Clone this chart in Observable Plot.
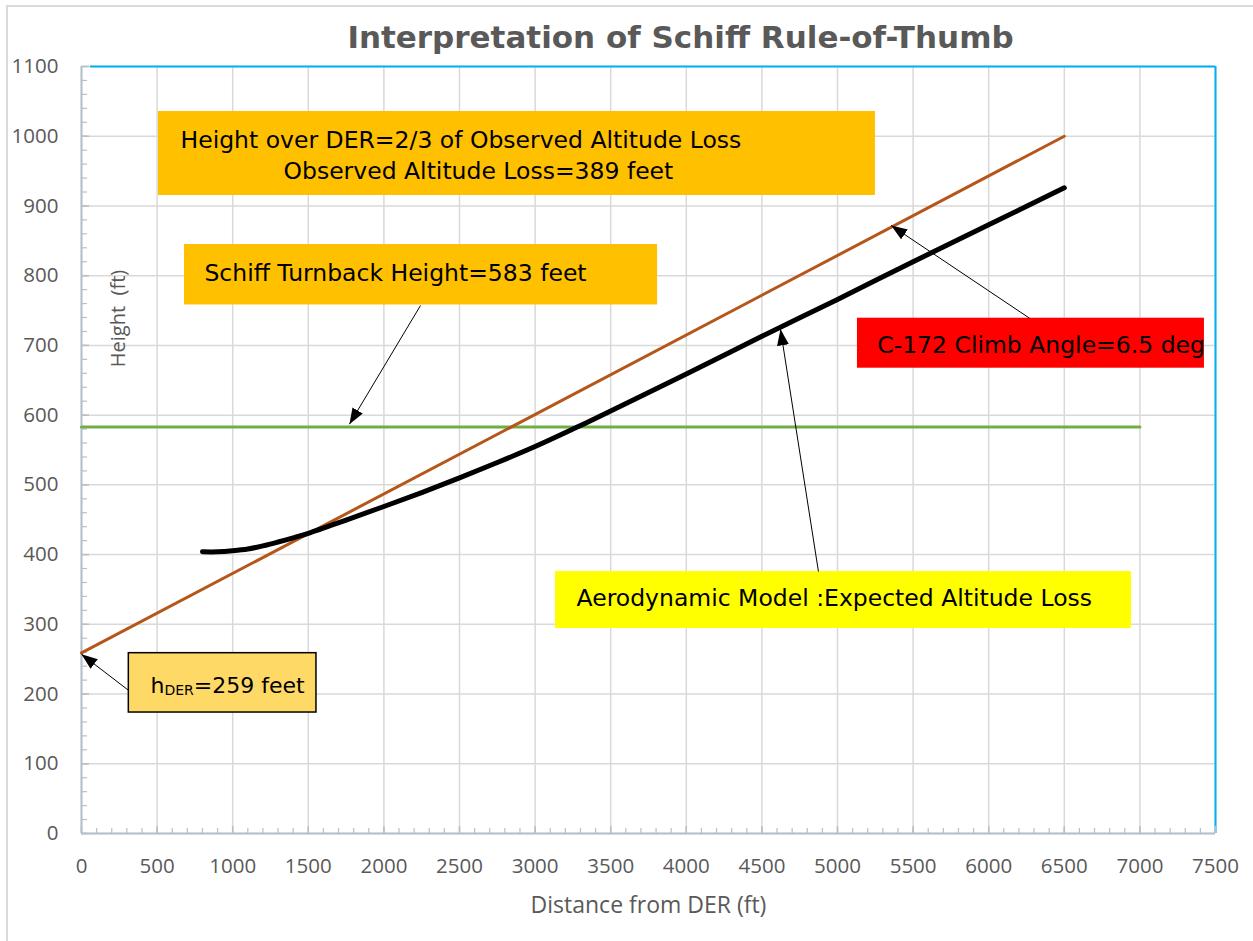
<!DOCTYPE html>
<html>
<head>
<meta charset="utf-8">
<script src="https://cdn.jsdelivr.net/npm/d3@7"></script>
<script src="https://cdn.jsdelivr.net/npm/@observablehq/plot@0.6"></script>
<style>
  html, body { margin: 0; padding: 0; background: #fff; overflow: hidden; }
  #wrap { position: relative; width: 1253px; height: 941px; }
  #border { position: absolute; left: 6px; top: 5px; width: 1280px; height: 980px;
            border-left: 2px solid #d9d9d9; border-top: 2px solid #d9d9d9; pointer-events: none; }
</style>
</head>
<body>
<div id="wrap"><div id="border"></div></div>
<script>
// ---- data ----
const xTicks = [0, 500, 1000, 1500, 2000, 2500, 3000, 3500, 4000, 4500, 5000, 5500, 6000, 6500, 7000, 7500];
const yTicks = [0, 100, 200, 300, 400, 500, 600, 700, 800, 900, 1000, 1100];

// Aerodynamic model: expected altitude loss curve
const modelDist   = [800, 900, 1000, 1100, 1200, 1300, 1400, 1500, 1750, 2000, 2250, 2500, 2750, 3000, 3250, 3500, 4000, 4500, 5000, 5500, 6000, 6500];
const modelHeight = [404, 404, 405.5, 408, 412.5, 418, 424, 430.5, 449.5, 469, 489, 510, 532, 555, 580, 606, 659, 713, 766, 820, 873, 926];

// C-172 climb line (6.5 deg) from h_DER = 259 ft
const climbDist   = [0, 6500];
const climbHeight = [259, 1000];

// Schiff turnback height
const schiffDist   = [0, 7000];
const schiffHeight = [583, 583];

// annotation boxes (data units)
const boxes = [
  {x1: 509,  x2: 5251, y1: 915,   y2: 1035.5, fill: "#FFC000", stroke: "none"},
  {x1: 681,  x2: 3810, y1: 758,   y2: 844.7,  fill: "#FFC000", stroke: "none"},
  {x1: 5132, x2: 7427, y1: 667.3, y2: 739,    fill: "#FF0000", stroke: "none"},
  {x1: 3135, x2: 6944, y1: 294,   y2: 375.7,  fill: "#FFFF00", stroke: "none"},
  {x1: 313,  x2: 1554, y1: 173.5, y2: 258.6,  fill: "#FFD966", stroke: "#000"}
];
const labels = [
  {x: 655,  y: 983,   text: "Height over DER=2/3 of Observed Altitude Loss"},
  {x: 1336, y: 938.6, text: "Observed Altitude Loss=389 feet"},
  {x: 813,  y: 791.7, text: "Schiff Turnback Height=583 feet"},
  {x: 5263, y: 688.4, text: "C-172 Climb Angle=6.5 deg"},
  {x: 3274, y: 325.6, text: "Aerodynamic Model :Expected Altitude Loss"},
  {x: 456,  y: 202,   text: "hDER=259 feet"}
];
const arrows = [
  {x1: 2242, y1: 757.2, x2: 1772, y2: 587},
  {x1: 6270, y1: 739,   x2: 5355, y2: 872},
  {x1: 4874, y1: 375.7, x2: 4623, y2: 723},
  {x1: 313,  y1: 205,   x2: 0,    y2: 257}
];

const titleText = "Interpretation of Schiff Rule-of-Thumb";
const xLabel = "Distance from DER (ft)";
const yLabel = "Height\u00a0 (ft)";

const model = modelDist.map((d, i) => ({x: d, y: modelHeight[i]}));
const climb = climbDist.map((d, i) => ({x: d, y: climbHeight[i]}));
const schiff = schiffDist.map((d, i) => ({x: d, y: schiffHeight[i]}));
const xMinor = d3.range(0, 7501, 100);
const yMinor = d3.range(0, 1101, 20);

const frameH = 941 - 66 - 108;
const frameW = 1253 - 81 - 38;
const axisCol = "#b3c1cc";
const gridCol = "#d9d9d9";
const textFont = "DejaVu Sans";

const chart = Plot.plot({
  width: 1253,
  height: 941,
  marginLeft: 81,
  marginRight: 38,
  marginTop: 66,
  marginBottom: 108,
  style: {fontFamily: "Open Sans", background: "transparent", overflow: "visible"},
  x: {domain: [0, 7500]},
  y: {domain: [0, 1100]},
  marks: [
    // grid
    Plot.ruleX(xTicks, {stroke: gridCol, strokeWidth: 1.5}),
    Plot.ruleY(yTicks, {stroke: gridCol, strokeWidth: 1.5}),
    // frame borders
    Plot.ruleY([1100], {x1: 60, x2: 7500, stroke: "#00B0F0", strokeWidth: 2}),
    Plot.ruleX([7500], {stroke: "#00B0F0", strokeWidth: 2}),
    Plot.ruleX([0], {stroke: axisCol, strokeWidth: 2}),
    Plot.ruleY([0], {stroke: axisCol, strokeWidth: 2}),
    // inward ticks
    Plot.tickX(xMinor, {x: d => d, stroke: axisCol, strokeWidth: 1.2, insetTop: frameH - 5}),
    Plot.tickX(xTicks, {x: d => d, stroke: axisCol, strokeWidth: 1.5, insetTop: frameH - 7}),
    Plot.tickY(yMinor, {y: d => d, stroke: axisCol, strokeWidth: 1.2, insetRight: frameW - 6}),
    Plot.tickY(yTicks, {y: d => d, stroke: axisCol, strokeWidth: 1.5, insetRight: frameW - 8}),
    // axes labels
    Plot.axisX({ticks: xTicks, tickSize: 0, tickPadding: 25, fontSize: 20.5, color: "#595959", label: null, tickFormat: d => String(d)}),
    Plot.axisY({ticks: yTicks, tickSize: 0, tickPadding: 23, fontSize: 20.5, color: "#595959", label: null, tickFormat: d => String(d)}),
    Plot.text([xLabel], {frameAnchor: "bottom", dy: 79, lineAnchor: "bottom", text: d => d, fontSize: 23, fill: "#595959"}),
    Plot.text([yLabel], {frameAnchor: "top-left", dx: 37, dy: 252, rotate: -90, textAnchor: "middle", lineAnchor: "middle",
      text: d => d, fontSize: 20, fill: "#595959"}),
    Plot.text([titleText], {frameAnchor: "top", dx: 32, dy: -19, lineAnchor: "bottom", text: d => d,
      fontFamily: textFont, fontWeight: "bold", fontSize: 31, fill: "#595959"}),
    // annotation boxes
    Plot.rect(boxes, {x1: "x1", x2: "x2", y1: "y1", y2: "y2", fill: "fill", stroke: "stroke", strokeWidth: 1.5}),
    Plot.text(labels, {x: "x", y: "y", text: "text", textAnchor: "start", lineAnchor: "bottom",
      fontFamily: textFont, fontSize: 23.5, fill: "#000"}),
    // data lines
    Plot.line(schiff, {x: "x", y: "y", stroke: "#70AD47", strokeWidth: 3}),
    Plot.line(climb, {x: "x", y: "y", stroke: "#B5561A", strokeWidth: 3}),
    Plot.line(model, {x: "x", y: "y", stroke: "#000", strokeWidth: 5, strokeLinecap: "round", curve: "catmull-rom"}),
    // arrows
    Plot.link(arrows, {x1: "x1", y1: "y1", x2: "x2", y2: "y2", stroke: "#000", strokeWidth: 1, markerEnd: "arrow"})
  ]
});

// filled arrowheads
const NS = "http://www.w3.org/2000/svg";
chart.querySelectorAll("marker").forEach(m => {
  m.setAttribute("viewBox", "-16 -6 16 12");
  m.setAttribute("markerUnits", "userSpaceOnUse");
  m.setAttribute("markerWidth", 16);
  m.setAttribute("markerHeight", 12);
  m.setAttribute("fill", "#000");
  m.setAttribute("stroke", "none");
  while (m.firstChild) m.removeChild(m.firstChild);
  const p = document.createElementNS(NS, "path");
  p.setAttribute("d", "M-16,-6L0,0L-16,6Z");
  m.appendChild(p);
});

// subscript for h_DER
chart.querySelectorAll("text").forEach(t => {
  if (t.textContent === "hDER=259 feet") {
    while (t.firstChild) t.removeChild(t.firstChild);
    t.setAttribute("font-size", 22);
    t.appendChild(document.createTextNode("h"));
    const s = document.createElementNS(NS, "tspan");
    s.setAttribute("font-size", 14);
    s.setAttribute("dy", 2);
    s.textContent = "DER";
    t.appendChild(s);
    const r = document.createElementNS(NS, "tspan");
    r.setAttribute("dy", -2);
    r.textContent = "=259 feet";
    t.appendChild(r);
  }
});

document.getElementById("wrap").appendChild(chart);
</script>
</body>
</html>
